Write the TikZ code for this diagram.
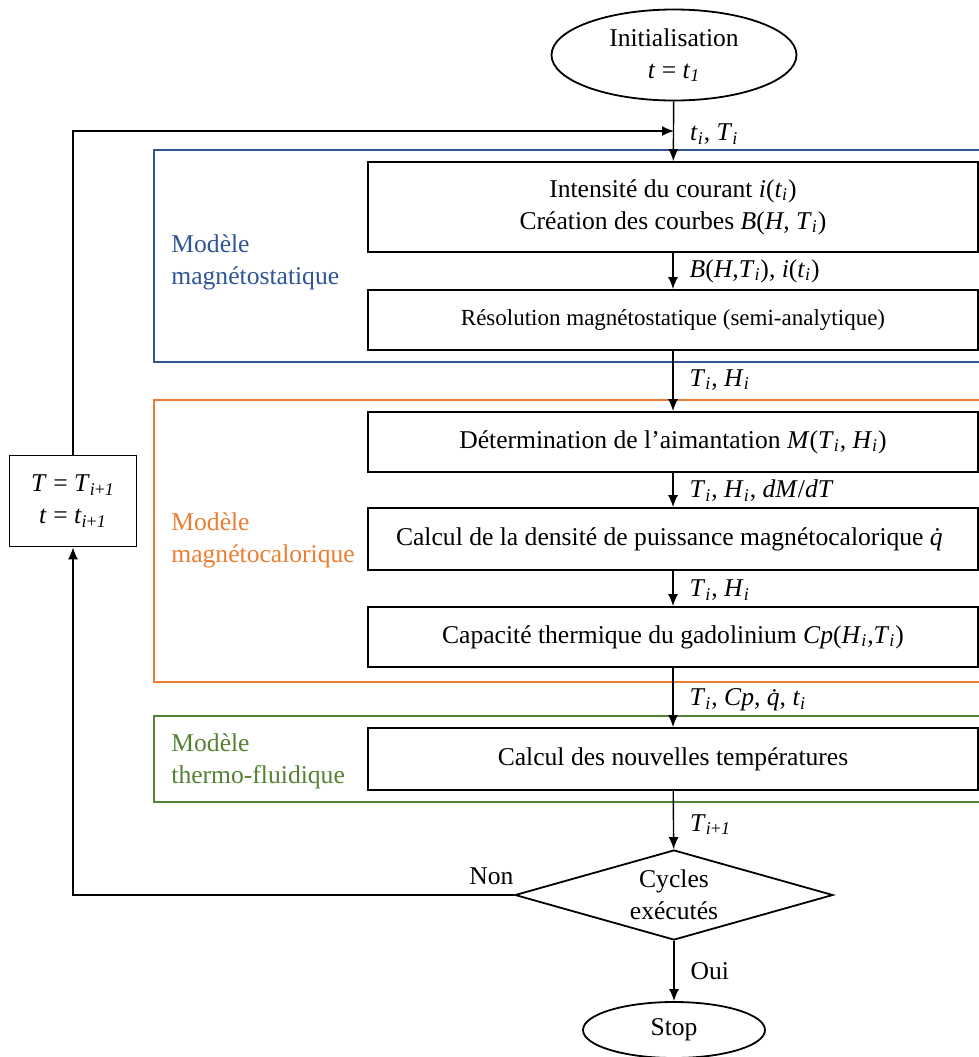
\documentclass[tikz,border=0pt]{standalone}
\usepackage{fontspec}
\setmainfont{Liberation Serif}
\usetikzlibrary{shapes.geometric}
\usetikzlibrary{arrows.meta}

\definecolor{bleuM}{RGB}{47,85,151}
\definecolor{orangeM}{RGB}{237,125,49}
\definecolor{vertM}{RGB}{84,130,53}
\newcommand\idx[2]{\textit{#1}\textsubscript{\textit{#2}}}

\begin{document}
\begin{tikzpicture}[x=0.5pt, y=-0.5pt,
    font=\fontsize{12.8}{16}\selectfont,
    box/.style={rectangle, draw=black, line width=0.9pt, minimum width=305pt, align=center, inner sep=0pt},
    terminal/.style={ellipse, draw=black, line width=0.9pt, align=center, inner sep=0pt},
    groupe/.style={line width=1pt},
    grlabel/.style={anchor=west, align=left, inner sep=0pt},
    arr/.style={-{Latex[length=6pt,width=5pt]}, line width=0.7pt},
    lbl/.style={anchor=west, inner sep=0pt, xshift=8pt}]
    \useasboundingbox (0,0) rectangle (979,1057);

    % zones des modeles
    \draw [groupe, draw=bleuM] (154,150) rectangle (990,362);
    \draw [groupe, draw=orangeM] (154,400) rectangle (990,682);
    \draw [groupe, draw=vertM] (154,716) rectangle (990,802);
    \node [grlabel, text=bleuM] (magstat) at (171,262) {Modèle\\magnétostatique};
    \node [grlabel, text=orangeM] (magcal) at (171,540) {Modèle\\magnétocalorique};
    \node [grlabel, text=vertM] (thermo) at (171,761) {Modèle\\thermo-fluidique};

    \node [terminal, minimum width=122.5pt, minimum height=45.5pt] (init) at (674,55) {Initialisation\\\textit{t} = \idx{t}{1}};
    \node [box, minimum height=45pt] (courant) at (673,207) {Intensité du courant \textit{i}(\idx{t}{i})\\Création des courbes \textit{B}(\textit{H}, \idx{T}{i})};
    \node [box, minimum height=30pt, font=\fontsize{11.5}{16}\selectfont] (resol) at (673,320) {Résolution magnétostatique (semi-analytique)};
    \node [box, minimum height=30pt] (aimant) at (673,442) {Détermination de l’aimantation \textit{M}(\idx{T}{i}, \idx{H}{i})};
    \node [box, minimum height=31pt] (densite) at (673,539) {Calcul de la densité de puissance magnétocalorique \textit{\.{q}}};
    \node [box, minimum height=30pt] (capa) at (673,637) {Capacité thermique du gadolinium \textit{Cp}(\idx{H}{i},\idx{T}{i})};
    \node [box, minimum height=31pt] (temp) at (673,759) {Calcul des nouvelles températures};
    \node [diamond, draw=black, line width=0.9pt, align=center, inner sep=0pt, aspect=3.5, minimum width=159pt, minimum height=45pt] (cycles) at (674,895) {Cycles\\exécutés};
    \node [terminal, minimum width=91pt, minimum height=28pt] (stop) at (674,1030) {Stop};
    \node [rectangle, draw=black, line width=0.9pt, align=center, minimum width=63.5pt, minimum height=45.5pt, inner sep=0pt] (maj) at (73,501) {\textit{T} = \textit{T}\textsubscript{\textit{i}+\textit{1}}\\\textit{t} = \textit{t}\textsubscript{\textit{i}+\textit{1}}};
    \coordinate (retour) at (674,131);

    \draw [arr] (init) -- node[lbl, pos=0.55] {\idx{t}{i}, \idx{T}{i}} (courant);
    \draw [arr] (courant) -- node[lbl, pos=0.5] {\textit{B}(\textit{H},\idx{T}{i}), \textit{i}(\idx{t}{i})} (resol);
    \draw [arr] (resol) -- node[lbl, pos=0.48] {\idx{T}{i}, \idx{H}{i}} (aimant);
    \draw [arr] (aimant) -- node[lbl, pos=0.52] {\idx{T}{i}, \idx{H}{i}, \textit{dM}/\textit{dT}} (densite);
    \draw [arr] (densite) -- node[lbl, pos=0.55] {\idx{T}{i}, \idx{H}{i}} (capa);
    \draw [arr] (capa) -- node[lbl, pos=0.54] {\idx{T}{i}, \textit{Cp}, \textit{\.{q}}, \idx{t}{i}} (temp);
    \draw [arr] (temp) -- node[lbl, pos=0.58] {\textit{T}\textsubscript{\textit{i}+\textit{1}}} (cycles);
    \draw [arr] (cycles) -- node[lbl, pos=0.5] {Oui} (stop);
    \draw [arr] (cycles.west) -| node[pos=0, anchor=south east, inner sep=0pt, yshift=5pt] {Non} (maj);
    \draw [arr] (maj) |- (retour);
\end{tikzpicture}
\end{document}
